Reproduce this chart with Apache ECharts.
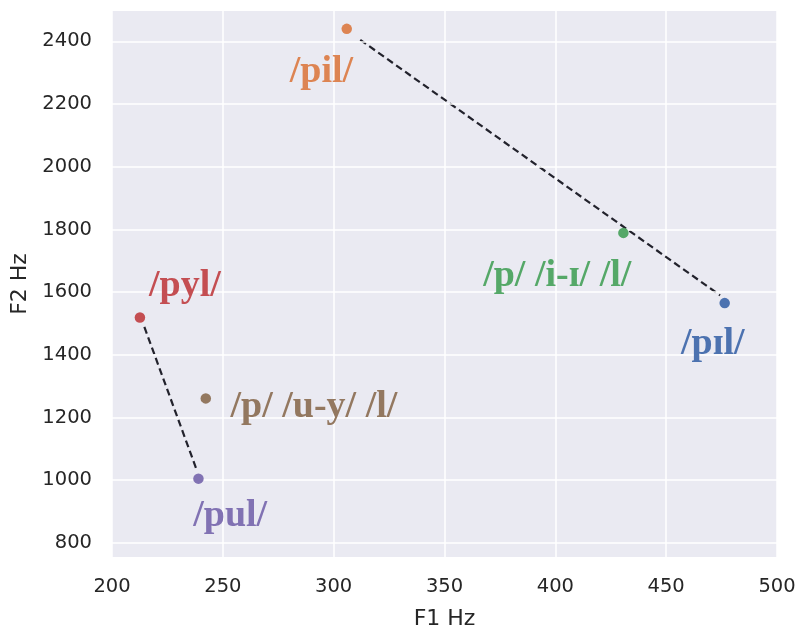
<!DOCTYPE html>
<html>
<head>
<meta charset="utf-8">
<script src="https://cdn.jsdelivr.net/npm/echarts@6/dist/echarts.min.js"></script>
<style>html,body{margin:0;padding:0;background:#fff}#c{width:798px;height:630px}</style>
</head>
<body>
<div id="c"></div>
<script>
// ---- data ----
const labels = ['/pɪl/', '/pil/', '/p/ /i-ɪ/ /l/', '/pyl/', '/pul/', '/p/ /u-y/ /l/'];
const f1 = [476.4, 305.9, 430.7, 212.6, 239.0, 242.3];
const f2 = [1565, 2440, 1789, 1519, 1005, 1261];
const colors = ['#4C72B0', '#DD8452', '#55A868', '#C44E52', '#8172B3', '#937860'];
const frontLine = [[312, 2405], [474.3, 1590]];
const backLine = [[214.6, 1489], [238.5, 1027]];
const xTicks = [200, 250, 300, 350, 400, 450, 500];
const yTicks = [800, 1000, 1200, 1400, 1600, 1800, 2000, 2200, 2400];

// label offsets (px) relative to symbol box, style only
const labelPos = [[-38.5, 46.5], [-51.7, 48.2], [-135, 48.8], [14.3, -26], [0, 42.5], [30, 14.5]];

const chart = echarts.init(document.getElementById('c'), null, {renderer: 'canvas'});
const tickFont = {fontFamily: 'DejaVu Sans', fontSize: 19.5, color: '#262626'};

const points = labels.map((l, i) => ({
  value: [f1[i], f2[i]],
  itemStyle: {color: colors[i], opacity: 1},
  label: {
    show: true,
    formatter: l,
    position: labelPos[i],
    align: 'left',
    verticalAlign: 'middle',
    color: colors[i],
    opacity: 1,
    fontFamily: '"Liberation Serif", "Times New Roman", serif',
    fontWeight: 'bold',
    fontSize: 38
  }
}));

chart.setOption({
  animation: false,
  backgroundColor: '#ffffff',
  grid: {left: 112, right: 21, top: 11, bottom: 73, show: true, backgroundColor: '#EAEAF2', borderWidth: 0,
         containLabel: false, outerBoundsMode: 'none'},
  xAxis: {
    type: 'value', min: 200, max: 500, interval: 50,
    name: 'F1 Hz', nameLocation: 'middle', nameGap: 51,
    nameTextStyle: {fontFamily: 'DejaVu Sans', fontSize: 22, color: '#262626'},
    axisLine: {show: false}, axisTick: {show: false},
    axisLabel: Object.assign({margin: 20, formatter: v => String(v)}, tickFont),
    splitLine: {show: true, lineStyle: {color: '#ffffff', width: 1.5}}
  },
  yAxis: {
    type: 'value', min: 755, max: 2497,
    name: 'F2 Hz', nameLocation: 'middle', nameGap: 79, nameRotate: 90,
    nameTextStyle: {fontFamily: 'DejaVu Sans', fontSize: 22, color: '#262626'},
    axisLine: {show: false},
    axisTick: {show: false, customValues: yTicks},
    axisLabel: Object.assign({margin: 20, customValues: yTicks, formatter: v => String(Math.round(v))}, tickFont),
    splitLine: {show: false}
  },
  series: [
    {
      type: 'line', data: [], silent: true,
      markLine: {
        silent: true, symbol: 'none', label: {show: false},
        lineStyle: {color: '#ffffff', width: 1.5, type: 'solid', opacity: 1},
        data: yTicks.map(v => ({yAxis: v}))
      }
    },
    {
      type: 'line', data: frontLine, symbol: 'none', silent: true,
      lineStyle: {color: '#22222c', width: 2.2, type: [7, 4]}
    },
    {
      type: 'line', data: backLine, symbol: 'none', silent: true,
      lineStyle: {color: '#22222c', width: 2.2, type: [7, 4]}
    },
    {
      type: 'scatter', symbol: 'circle', symbolSize: 10.5, data: points, z: 5,
      itemStyle: {opacity: 1}
    }
  ]
});
</script>
</body>
</html>
